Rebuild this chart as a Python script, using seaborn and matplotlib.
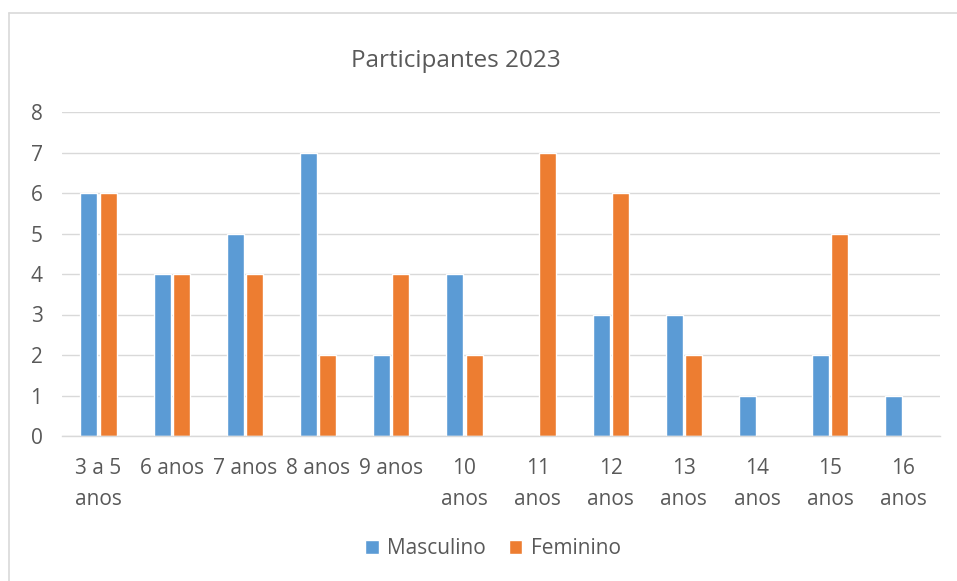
import pandas as pd
import seaborn as sns
import matplotlib.pyplot as plt
from matplotlib.lines import Line2D

categories = ["3 a 5\nanos", "6 anos", "7 anos", "8 anos", "9 anos", "10\nanos",
              "11\nanos", "12\nanos", "13\nanos", "14\nanos", "15\nanos", "16\nanos"]
masculino = [6, 4, 5, 7, 2, 4, 0, 3, 3, 1, 2, 1]
feminino = [6, 4, 4, 2, 4, 2, 7, 6, 2, 0, 5, 0]
series_names = ["Masculino", "Feminino"]
colors = ["#5B9BD5", "#ED7D31"]
yticks = list(range(0, 9))

df = pd.DataFrame({
    "Idade": categories * 2,
    "Participantes": masculino + feminino,
    "Sexo": [series_names[0]] * len(categories) + [series_names[1]] * len(categories),
})

sns.set_style("white")
plt.rcParams["font.family"] = ["Open Sans", "DejaVu Sans"]
text_color = "#595959"

fig = plt.figure(figsize=(9.57, 5.81), dpi=100)
ax = fig.add_axes([62 / 957, 1 - 436 / 581, (940 - 62) / 957, (436 - 112) / 581])

sns.barplot(data=df, x="Idade", y="Participantes", hue="Sexo", palette=colors,
            width=0.53, gap=0.12, ax=ax, legend=True, saturation=1)

ax.set_ylim(0, 8)
ax.set_yticks(yticks)
ax.set_xlim(-0.5, len(categories) - 0.5)
ax.yaxis.grid(True, color="#D9D9D9", linewidth=1)
ax.set_axisbelow(True)
for s in ["top", "right", "left"]:
    ax.spines[s].set_visible(False)
ax.spines["bottom"].set_color("#D9D9D9")
ax.spines["bottom"].set_linewidth(1)
ax.set_xlabel("")
ax.set_ylabel("")
ax.tick_params(axis="both", length=0, labelsize=15, labelcolor=text_color)
ax.tick_params(axis="x", pad=16)
ax.tick_params(axis="y", pad=14)
for lbl in ax.get_xticklabels():
    lbl.set_linespacing(1.62)
    lbl.set_verticalalignment("top")

fig.text(456 / 957, 1 - 61 / 581, "Participantes 2023", ha="center", va="center",
         fontsize=17.5, color=text_color)

handles, labels = ax.get_legend_handles_labels()
ax.get_legend().remove()
fig.legend(handles, labels, loc="center", bbox_to_anchor=(493 / 957, 1 - 549 / 581),
           ncol=2, frameon=False, fontsize=15, labelcolor=text_color,
           handlelength=0.65, handleheight=0.65, handletextpad=0.4, columnspacing=1.1)

# chart border (only top and left are inside the crop)
fig.add_artist(Line2D([8.5 / 957, 8.5 / 957], [0, 1 - 12.5 / 581], color="#D9D9D9",
                      linewidth=1.2, transform=fig.transFigure))
fig.add_artist(Line2D([8.5 / 957, 1], [1 - 12.5 / 581, 1 - 12.5 / 581], color="#D9D9D9",
                      linewidth=1.2, transform=fig.transFigure))

fig.savefig("out.png", dpi=100)
